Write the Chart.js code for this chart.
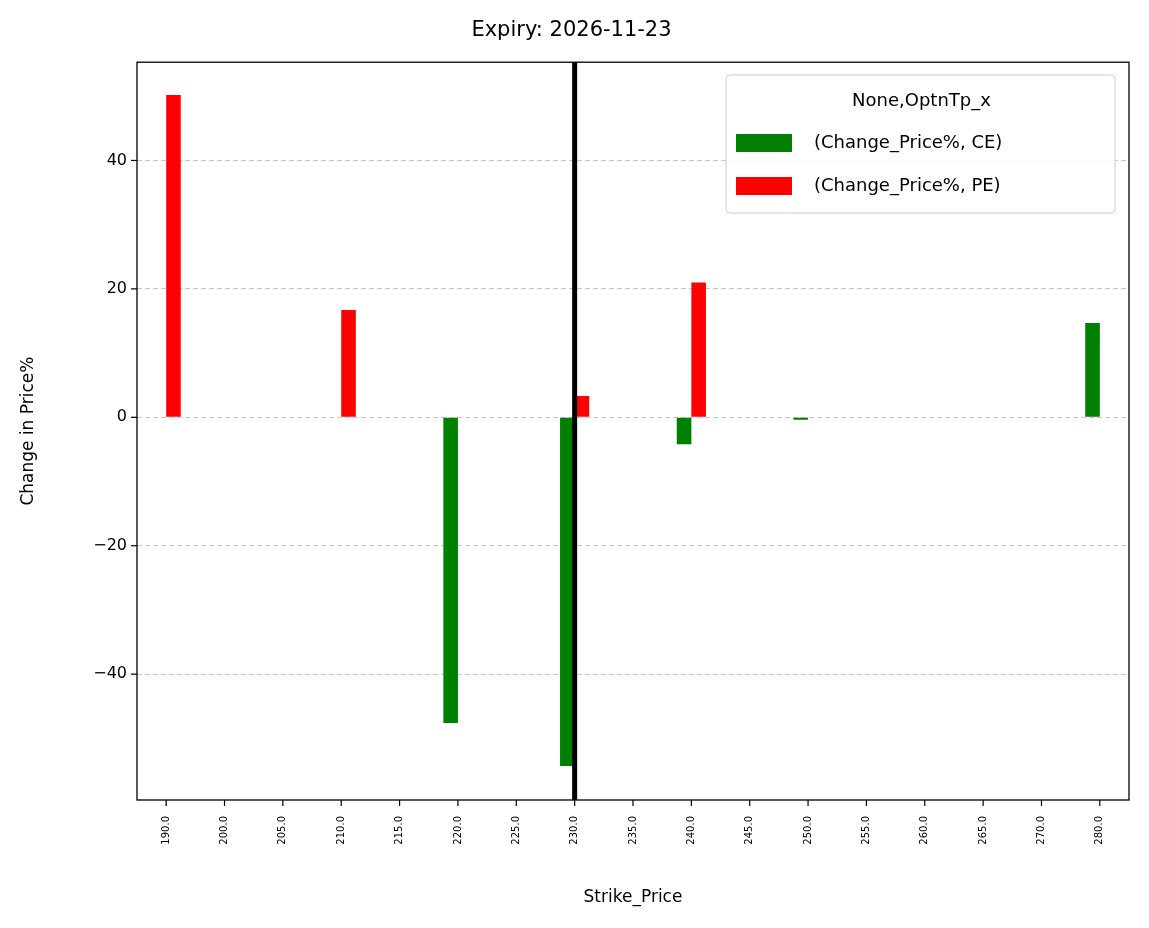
<!DOCTYPE html>
<html><head><meta charset="utf-8">
<script src="https://cdn.jsdelivr.net/npm/chart.js@4/dist/chart.umd.min.js"></script>
<style>html,body{margin:0;padding:0;background:#fff}#w{width:1149px;height:928px}</style>
</head><body><div id="w"><canvas id="c"></canvas></div>
<script>
const categories=["190.0","200.0","205.0","210.0","215.0","220.0","225.0","230.0","235.0","240.0","245.0","250.0","255.0","260.0","265.0","270.0","280.0"];
const ceValues=[null,null,null,null,null,-47.6,null,-54.3,null,-4.2,null,-0.4,null,null,null,null,14.7];
const peValues=[50.2,null,null,16.7,null,null,null,3.3,null,21.0,null,null,null,null,null,null,null];
const spotCategory="230.0";
const yTicks=[-40,-20,0,20,40];
const F="DejaVu Sans";
const deco={id:'deco',afterDraw(ch){
 const c=ch.ctx,a=ch.chartArea,x=ch.scales.x,y=ch.scales.y;
 c.save();
 c.strokeStyle='#000';c.lineWidth=1.2;
 yTicks.forEach(v=>{const py=y.getPixelForValue(v);c.beginPath();c.moveTo(a.left-6,py);c.lineTo(a.left,py);c.stroke();});
 categories.forEach((_,i)=>{const p=x.getPixelForValue(i);c.beginPath();c.moveTo(p,a.bottom);c.lineTo(p,a.bottom+6);c.stroke();});
 const px=x.getPixelForValue(categories.indexOf(spotCategory));
 c.lineWidth=5;c.beginPath();c.moveTo(px,a.top);c.lineTo(px,a.bottom);c.stroke();
 c.lineWidth=1.3;c.strokeRect(a.left,a.top,a.right-a.left,a.bottom-a.top);
 const lx=726,ly=75,lw=389,lh=138;
 c.fillStyle='rgba(255,255,255,0.85)';c.strokeStyle='#ccc';c.lineWidth=1;
 c.beginPath();c.roundRect(lx,ly,lw,lh,4);c.fill();c.stroke();
 c.fillStyle='#000';c.font='18px '+F;c.textBaseline='middle';c.textAlign='center';
 c.fillText('None,OptnTp_x',lx+lw/2+1,101);
 c.textAlign='left';
 ch.data.datasets.forEach((d,i)=>{const yy=143+i*43;c.fillStyle=d.backgroundColor;c.fillRect(736,yy-9,56,18);c.fillStyle='#000';c.fillText(d.label,814,yy);});
 c.restore();}};
new Chart(document.getElementById('c'),{type:'bar',
data:{labels:categories,datasets:[
 {label:'(Change_Price%, CE)',data:ceValues,backgroundColor:'#008000'},
 {label:'(Change_Price%, PE)',data:peValues,backgroundColor:'#ff0000'}]},
options:{responsive:true,maintainAspectRatio:false,animation:false,
 layout:{padding:{top:0,right:20,left:14,bottom:16}},
 categoryPercentage:0.5,barPercentage:1,skipNull:false,
 plugins:{legend:{display:false},tooltip:{enabled:false},
  title:{display:true,text:'Expiry: 2026-11-23',color:'#000',font:{family:F,size:21,weight:'normal'},padding:{top:18,bottom:19}}},
 scales:{
  x:{grid:{display:false},border:{display:false},
   ticks:{color:'#000',font:{family:F,size:10},maxRotation:90,minRotation:90,autoSkip:false,padding:8},
   title:{display:true,text:'Strike_Price',color:'#000',font:{family:F,size:17},padding:{top:4}},
   afterFit(s){s.height=112;}},
  y:{min:-59.6,max:55.3,afterBuildTicks(s){s.ticks=yTicks.map(v=>({value:v}));},
   grid:{color:'#c8c8c8',drawTicks:false},border:{display:false,dash:[5,3]},
   ticks:{color:'#000',font:{family:F,size:16},padding:10,callback:v=>v<0?'\u2212'+Math.abs(v):v},
   title:{display:true,text:'Change in Price%',color:'#000',font:{family:F,size:17}},
   afterFit(s){s.width=123;}}}},
plugins:[deco]});
</script></body></html>
